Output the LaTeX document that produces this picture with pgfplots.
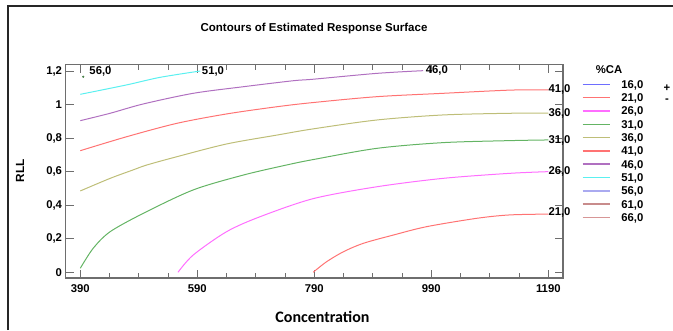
\documentclass[border=0pt]{standalone}
\usepackage{pgfplots}
\pgfplotsset{compat=1.18}
\usepackage{fontspec}
\setmainfont{Liberation Sans}
\newfontfamily\carlito{Carlito}
\definecolor{c16}{RGB}{110,110,255}
\definecolor{c21}{RGB}{255,115,115}
\definecolor{c26}{RGB}{255,110,255}
\definecolor{c31}{RGB}{100,180,100}
\definecolor{c36}{RGB}{190,190,120}
\definecolor{c41}{RGB}{255,115,115}
\definecolor{c46}{RGB}{176,112,192}
\definecolor{c51}{RGB}{90,240,240}
\definecolor{c56}{RGB}{170,170,240}
\definecolor{c61}{RGB}{200,140,140}
\definecolor{c66}{RGB}{215,150,150}
\definecolor{axgray}{RGB}{110,110,110}
\newcommand{\lf}{\fontsize{11.3}{13}\selectfont\bfseries}
\begin{document}
\begin{tikzpicture}
\begin{axis}[
  name=ax,
  at={(65.5pt,52pt)}, anchor=south west,
  scale only axis, width=497.5pt, height=213.3pt,
  xmin=364.7, xmax=1215.1, ymin=-0.034, ymax=1.2376,
  clip=false,
  axis line style={axgray, line width=1.2pt},
  tick align=inside, tick pos=both, ticklabel pos=left,
  xtick={390,590,790,990,1190},
  xticklabels={390,590,790,990,1190},
  minor xtick={440,490,540,640,690,740,840,890,940,1040,1090,1140},
  ytick={0,0.2,0.4,0.6,0.8,1,1.2},
  yticklabels={0,{0,2},{0,4},{0,6},{0,8},1,{1,2}},
  major tick length=8pt, minor tick length=5pt,
  every tick/.style={axgray, line width=0.8pt},
  tick label style={font=\lf},
  xticklabel style={yshift=-3pt},
  legend style={draw=none, fill=none, inner sep=0pt, outer sep=0pt,
    at={(axis description cs:1.0376,0.928)}, anchor=north west,
    font=\lf, nodes={inner sep=0pt, text height=8pt, text depth=2.5pt},
    row sep=2.83pt, column sep=11pt},
  legend image code/.code={\draw[#1, line width=1.6pt] (0pt,1pt) -- (27pt,1pt);},
]
\addlegendimage{color=c16, no markers}\addlegendentry{16,0}
\addlegendimage{color=c21, no markers}\addlegendentry{21,0}
\addlegendimage{color=c26, no markers}\addlegendentry{26,0}
\addlegendimage{color=c31, no markers}\addlegendentry{31,0}
\addlegendimage{color=c36, no markers}\addlegendentry{36,0}
\addlegendimage{color=c41, no markers}\addlegendentry{41,0}
\addlegendimage{color=c46, no markers}\addlegendentry{46,0}
\addlegendimage{color=c51, no markers}\addlegendentry{51,0}
\addlegendimage{color=c56, no markers}\addlegendentry{56,0}
\addlegendimage{color=c61, no markers}\addlegendentry{61,0}
\addlegendimage{color=c66, no markers}\addlegendentry{66,0}

\addplot[c51, line width=1pt, smooth, tension=0.5, forget plot] coordinates {(390,1.061) (469,1.117) (526,1.162) (595,1.200)};
\addplot[c46, line width=1pt, smooth, tension=0.5, forget plot] coordinates {(390,0.904) (441,0.948) (497,1.003) (583,1.067) (668,1.106) (754,1.142) (788,1.151) (897,1.186) (976,1.202)};
\addplot[c41, line width=1pt, smooth, tension=0.5, forget plot] coordinates {(390,0.725) (469,0.808) (555,0.888) (640,0.944) (726,0.987) (788,1.012) (897,1.047) (1010,1.067) (1124,1.086) (1190,1.088)};
\addplot[c36, line width=1pt, smooth, tension=0.5, forget plot] coordinates {(390,0.485) (441,0.560) (480,0.610) (504,0.640) (555,0.689) (640,0.765) (726,0.818) (788,0.855) (897,0.908) (1010,0.938) (1124,0.948) (1190,0.949)};
\addplot[c31, line width=1pt, smooth, tension=0.5, forget plot] coordinates {(390,0.024) (412,0.143) (441,0.242) (498,0.352) (583,0.491) (669,0.580) (743,0.640) (788,0.672) (897,0.739) (1010,0.773) (1124,0.785) (1190,0.789)};
\addplot[c26, line width=1pt, smooth, tension=0.5, forget plot] coordinates {(557,0.000) (583,0.103) (640,0.242) (697,0.331) (788,0.439) (897,0.510) (1010,0.560) (1124,0.590) (1190,0.600)};
\addplot[c21, line width=1pt, smooth, tension=0.5, forget plot] coordinates {(788,0.000) (811,0.063) (840,0.123) (874,0.173) (925,0.222) (982,0.272) (1068,0.322) (1124,0.342) (1190,0.347)};
\addplot[only marks, mark=*, mark size=0.9pt, c31!70!black, forget plot] coordinates {(395,1.166)};

\node[font=\lf, inner sep=0pt] at (axis cs:424.5,1.2) {56,0};
\node[font=\lf, inner sep=0pt] at (axis cs:616.8,1.2) {51,0};
\node[font=\lf, inner sep=0pt] at (axis cs:999.5,1.202) {46,0};
\node[font=\lf, inner sep=0pt, anchor=west] at (axis cs:1190,1.088) {41,0};
\node[font=\lf, inner sep=0pt, anchor=west] at (axis cs:1190,0.949) {36,0};
\node[font=\lf, inner sep=0pt, anchor=west] at (axis cs:1190,0.789) {31,0};
\node[font=\lf, inner sep=0pt, anchor=west] at (axis cs:1190,0.600) {26,0};
\node[font=\lf, inner sep=0pt, anchor=west] at (axis cs:1190,0.354) {21,0};
\end{axis}
\pgfresetboundingbox
\useasboundingbox (0pt,0pt) rectangle (673pt,330pt);
\draw[line width=1.2pt, black!85] (8pt,0pt) -- (8pt,324pt) -- (673pt,324pt);
\node[font=\fontsize{11.5}{13}\selectfont\bfseries] at (314pt,301.5pt) {Contours of Estimated Response Surface};
\node[font=\carlito\fontsize{16}{18}\selectfont\bfseries] at (322.5pt,13.5pt) {Concentration};
\node[font=\fontsize{11.8}{13}\selectfont\bfseries, rotate=90] at (20pt,159pt) {RLL};
\node[font=\lf] at (609pt,260pt) {\%CA};
\node[font=\lf] at (667pt,242.3pt) {+};
\node[font=\lf] at (667pt,229pt) {-};
\end{tikzpicture}
\end{document}
